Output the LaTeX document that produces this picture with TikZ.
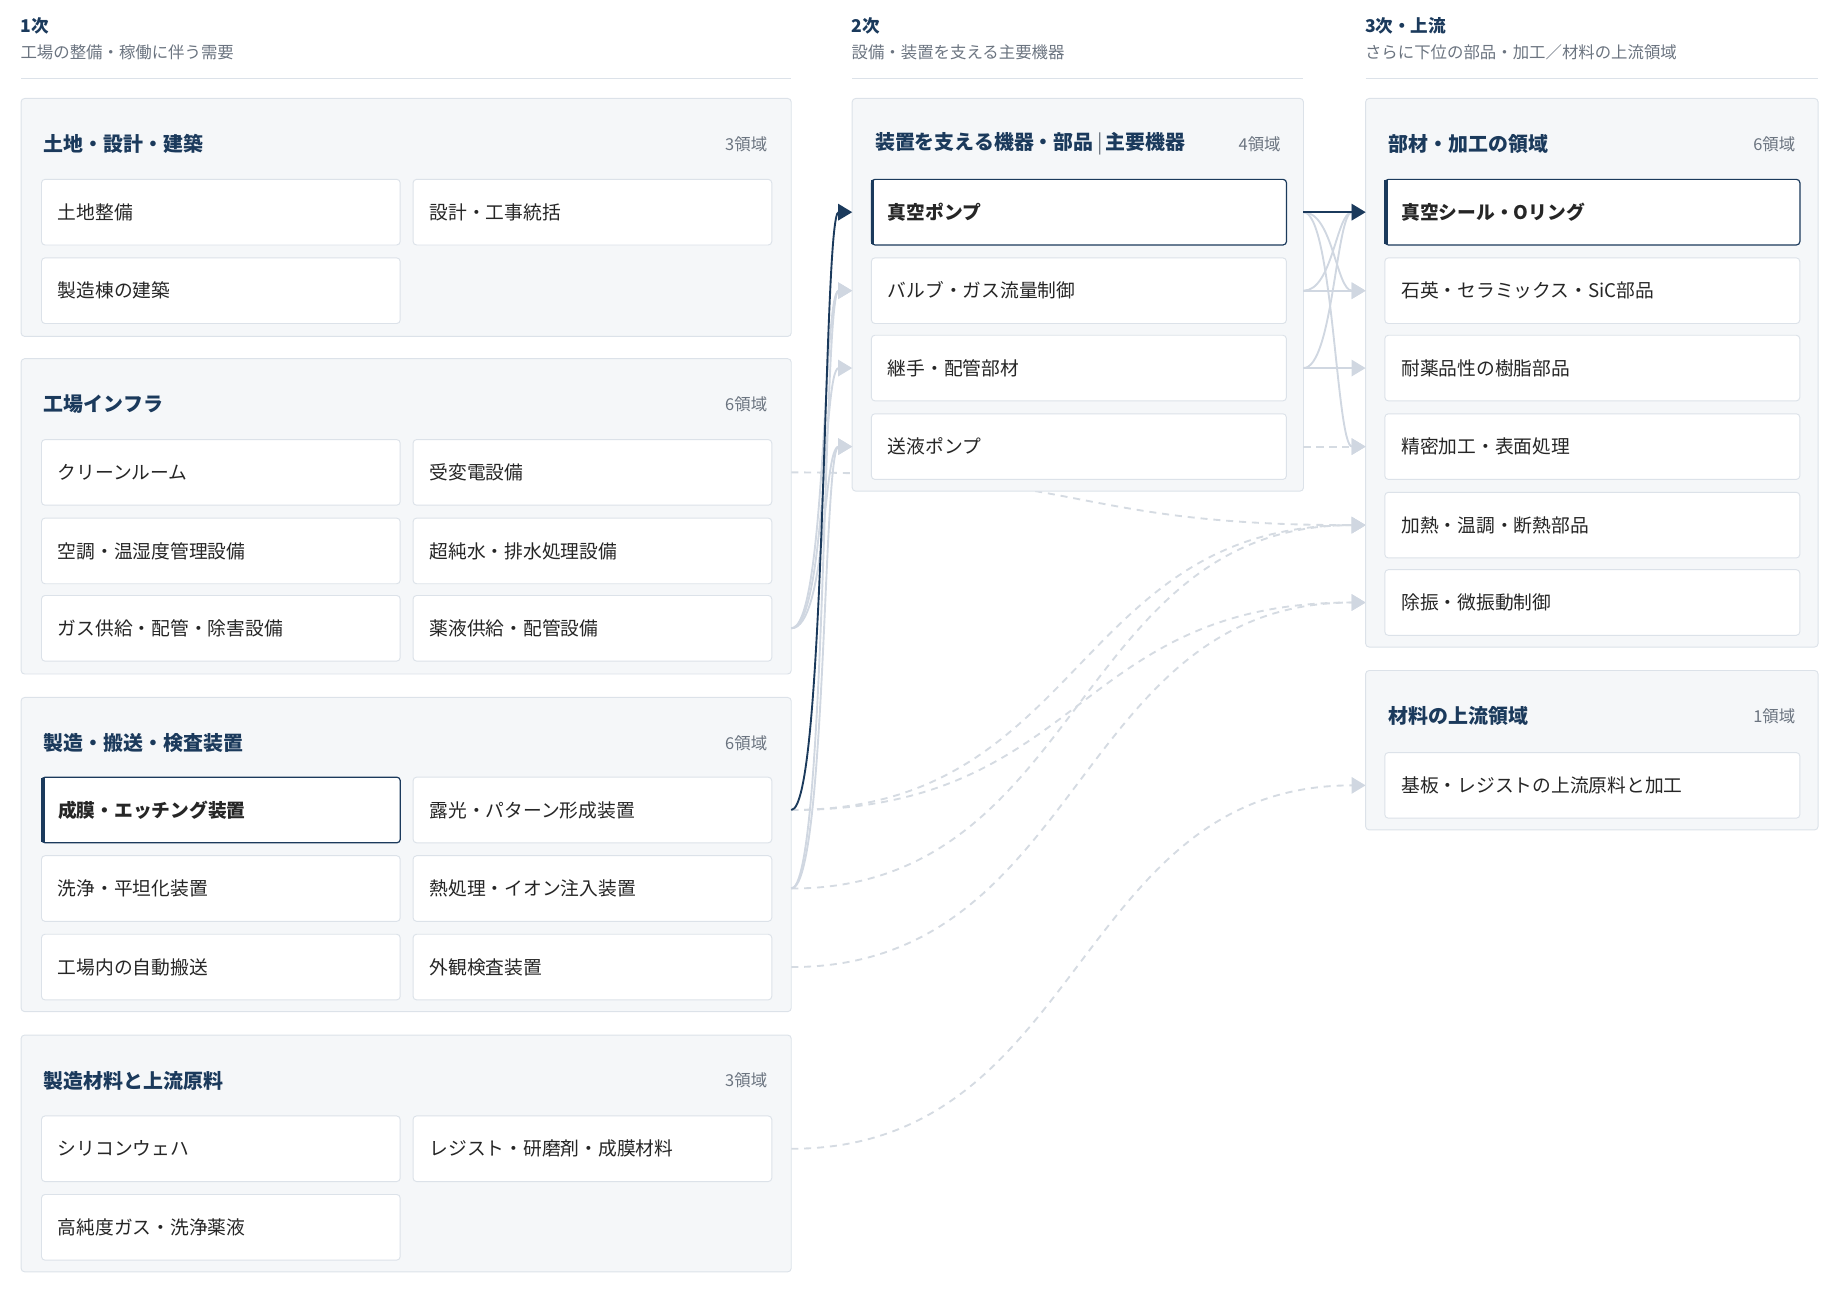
\documentclass[tikz,border=0pt]{standalone}
\usepackage{fontspec}
\setmainfont{Noto Sans CJK JP}
\usetikzlibrary{arrows.meta,backgrounds}
\definecolor{navy}{HTML}{1B3A5C}
\definecolor{lineg}{HTML}{D0D7E1}
\definecolor{dashg}{HTML}{D5DBE2}
\definecolor{boxfill}{HTML}{F5F7F9}
\definecolor{boxline}{HTML}{DCE2E9}
\definecolor{subg}{HTML}{6B7480}
\tikzset{
  group/.style={draw=boxline,fill=boxfill,rounded corners=3pt,line width=0.8pt},
  card/.style={draw=boxline,fill=white,rounded corners=3pt,line width=0.8pt,anchor=west,
    text width=278pt,align=left,inner xsep=14pt,minimum height=56pt,font=\fontsize{16}{18}\selectfont,text=black!85},
  wide/.style={card,text width=326pt},
  hot/.style={draw=navy,line width=1pt},
  gtitle/.style={anchor=west,font=\fontsize{17}{19}\selectfont\bfseries,text=navy},
  gcount/.style={anchor=east,font=\fontsize{14}{16}\selectfont,text=subg},
  head/.style={anchor=west,font=\fontsize{15}{17}\selectfont\bfseries,text=navy},
  sub/.style={anchor=west,font=\fontsize{14}{16}\selectfont,text=subg},
  link/.style={draw=lineg,line width=1.6pt,-{Triangle[length=12pt,width=14pt]}},
  dlink/.style={draw=dashg,line width=1.6pt,dash pattern=on 6pt off 5pt,-{Triangle[length=12pt,width=14pt,color=lineg]}},
  main/.style={draw=navy,line width=1.6pt,-{Triangle[length=12pt,width=14pt]}}
}
\newcommand{\hotbar}[1]{\draw[navy,line width=3pt] ([xshift=1.5pt,yshift=-1pt]#1.north west) -- ([xshift=1.5pt,yshift=1pt]#1.south west);}
\begin{document}
\begin{tikzpicture}[x=1pt,y=-1pt]
\useasboundingbox (0,0) rectangle (1568,1099);
% column edges
\coordinate (c1e) at (675,0);
\coordinate (c2w) at (727,0);
\coordinate (c2e) at (1112,0);
\coordinate (c3w) at (1165,0);
% column headers
\node[head] at (14,22) {1次};
\node[sub] at (14,45) {工場の整備・稼働に伴う需要};
\draw[boxline,line width=1.5pt] (18,67) -- (675,67);
\node[head] at (723,22) {2次};
\node[sub] at (723,45) {設備・装置を支える主要機器};
\draw[boxline,line width=1.5pt] (727,67) -- (1112,67);
\node[head] at (1161,22) {3次・上流};
\node[sub] at (1161,45) {さらに下位の部品・加工／材料の上流領域};
\draw[boxline,line width=1.5pt] (1165,67) -- (1551,67);
% column 1
\draw[group] (18,84) rectangle (675,287);
\node[gtitle] at (34,123) {土地・設計・建築};
\node[gcount] at (658,123) {3領域};
\node[card] (land) at (35,181) {土地整備};
\node[card] (design) at (352,181) {設計・工事統括};
\node[card] (build) at (35,248) {製造棟の建築};
\draw[group] (18,306) rectangle (675,575);
\node[gtitle] at (34,345) {工場インフラ};
\node[gcount] at (658,345) {6領域};
\node[card] (clean) at (35,403) {クリーンルーム};
\node[card] (power) at (352,403) {受変電設備};
\node[card] (hvac) at (35,470) {空調・温湿度管理設備};
\node[card] (water) at (352,470) {超純水・排水処理設備};
\node[card] (gas) at (35,536) {ガス供給・配管・除害設備};
\node[card] (chem) at (352,536) {薬液供給・配管設備};
\draw[group] (18,595) rectangle (675,863);
\node[gtitle] at (34,634) {製造・搬送・検査装置};
\node[gcount] at (658,634) {6領域};
\node[card,hot] (etch) at (35,691) {\bfseries 成膜・エッチング装置};
\hotbar{etch}
\node[card] (litho) at (352,691) {露光・パターン形成装置};
\node[card] (wash) at (35,758) {洗浄・平坦化装置};
\node[card] (heat) at (352,758) {熱処理・イオン注入装置};
\node[card] (agv) at (35,825) {工場内の自動搬送};
\node[card] (insp) at (352,825) {外観検査装置};
\draw[group] (18,883) rectangle (675,1085);
\node[gtitle] at (34,922) {製造材料と上流原料};
\node[gcount] at (658,922) {3領域};
\node[card] (wafer) at (35,980) {シリコンウェハ};
\node[card] (resist) at (352,980) {レジスト・研磨剤・成膜材料};
\node[card] (pure) at (35,1047) {高純度ガス・洗浄薬液};
% column 2
\draw[group] (727,84) rectangle (1112,419);
\node[gtitle] at (743,123) {装置を支える機器・部品\,{\color{subg}\mdseries|}\,主要機器};
\node[gcount] at (1096,123) {4領域};
\node[wide,hot] (vac) at (743,181) {\bfseries 真空ポンプ};
\hotbar{vac}
\node[wide] (valve) at (743,248) {バルブ・ガス流量制御};
\node[wide] (fit) at (743,314) {継手・配管部材};
\node[wide] (lpump) at (743,381) {送液ポンプ};
% column 3
\draw[group] (1165,84) rectangle (1551,552);
\node[gtitle] at (1181,123) {部材・加工の領域};
\node[gcount] at (1535,123) {6領域};
\node[wide,hot] (seal) at (1181,181) {\bfseries 真空シール・Oリング};
\hotbar{seal}
\node[wide] (quartz) at (1181,248) {石英・セラミックス・SiC部品};
\node[wide] (resin) at (1181,314) {耐薬品性の樹脂部品};
\node[wide] (finish) at (1181,381) {精密加工・表面処理};
\node[wide] (heater) at (1181,448) {加熱・温調・断熱部品};
\node[wide] (damp) at (1181,514) {除振・微振動制御};
\draw[group] (1165,572) rectangle (1551,708);
\node[gtitle] at (1181,611) {材料の上流領域};
\node[gcount] at (1535,611) {1領域};
\node[wide] (sub) at (1181,670) {基板・レジストの上流原料と加工};
% dashed links behind the boxes
\begin{scope}[on background layer]
\draw[dlink] (c1e |- power.east) .. controls +(250,0) and +(-250,0) .. (c3w |- heater.west);
\draw[dlink] (c1e |- litho.east) .. controls +(250,0) and +(-250,0) .. (c3w |- heater.west);
\draw[dlink] (c1e |- litho.east) .. controls +(250,0) and +(-250,0) .. (c3w |- damp.west);
\draw[dlink] (c1e |- heat.east) .. controls +(250,0) and +(-250,0) .. (c3w |- heater.west);
\draw[dlink] (c1e |- insp.east) .. controls +(250,0) and +(-250,0) .. (c3w |- damp.west);
\draw[dlink] (c1e |- resist.east) .. controls +(250,0) and +(-250,0) .. (c3w |- sub.west);
\end{scope}
\draw[dlink] (c2e |- lpump.east) .. controls +(20,0) and +(-20,0) .. (c3w |- finish.west);
% solid links
\draw[link] (c1e |- chem.east) .. controls +(30,0) and +(-25,0) .. (c2w |- valve.west);
\draw[link] (c1e |- chem.east) .. controls +(30,0) and +(-25,0) .. (c2w |- fit.west);
\draw[link] (c1e |- chem.east) .. controls +(30,0) and +(-25,0) .. (c2w |- lpump.west);
\draw[link] (c1e |- heat.east) .. controls +(30,0) and +(-25,0) .. (c2w |- valve.west);
\draw[link] (c1e |- heat.east) .. controls +(30,0) and +(-25,0) .. (c2w |- lpump.west);
\draw[link] (c2e |- vac.east) .. controls +(25,0) and +(-25,0) .. (c3w |- quartz.west);
\draw[link] (c2e |- vac.east) .. controls +(25,0) and +(-25,0) .. (c3w |- finish.west);
\draw[link] (c2e |- valve.east) .. controls +(25,0) and +(-25,0) .. (c3w |- seal.west);
\draw[link] (c2e |- valve.east) .. controls +(25,0) and +(-25,0) .. (c3w |- quartz.west);
\draw[link] (c2e |- fit.east) .. controls +(25,0) and +(-25,0) .. (c3w |- seal.west);
\draw[link] (c2e |- fit.east) .. controls +(25,0) and +(-25,0) .. (c3w |- resin.west);
\draw[main] (c1e |- etch.east) .. controls +(30,0) and +(-25,0) .. (c2w |- vac.west);
\draw[main] (c2e |- vac.east) -- (c3w |- seal.west);
\end{tikzpicture}
\end{document}
